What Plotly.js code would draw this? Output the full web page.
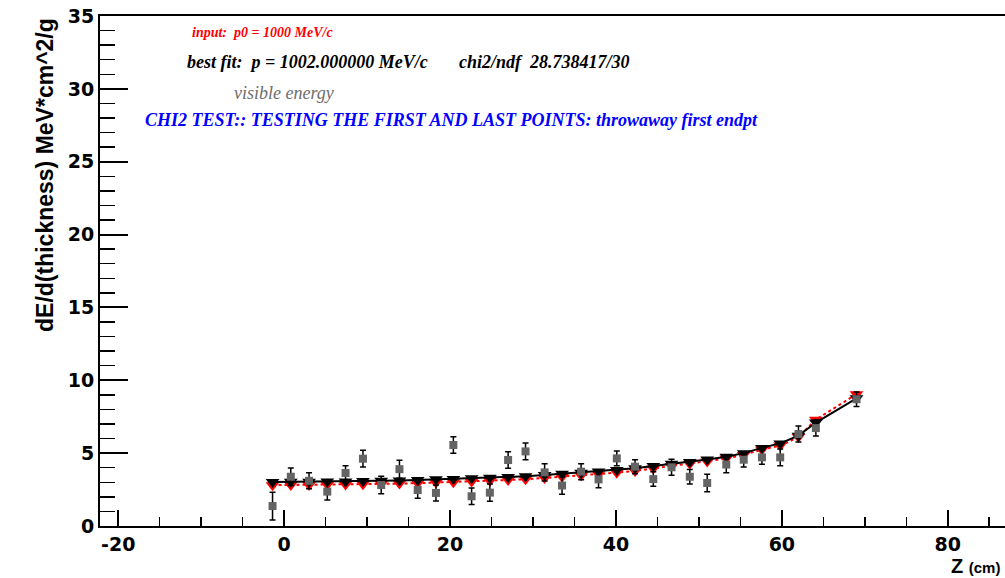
<!DOCTYPE html>
<html>
<head>
<meta charset="utf-8">
<script src="https://cdn.plot.ly/plotly-3.0.1.min.js"></script>
<style>html,body{margin:0;padding:0;background:#fff;}#chart{width:1005px;height:578px;}</style>
</head>
<body>
<div id="chart"></div>
<script>
// Z positions (cm)
var zPos = [-1.4, 0.8, 3.0, 5.2, 7.4, 9.5, 11.7, 13.9, 16.1, 18.3, 20.4, 22.6, 24.8, 27.0, 29.1, 31.4,
            33.5, 35.8, 37.9, 40.1, 42.3, 44.5, 46.7, 48.9, 51.0, 53.3, 55.4, 57.6, 59.8, 62.0, 64.1, 69.0];
// input p0 = 1000 MeV/c (red)
var inputVals = [2.80, 2.81, 2.82, 2.83, 2.84, 2.86, 2.88, 2.91, 2.94, 2.98, 3.01, 3.05, 3.10, 3.15, 3.20, 3.30,
                 3.38, 3.47, 3.56, 3.66, 3.78, 3.95, 4.12, 4.27, 4.43, 4.63, 4.88, 5.24, 5.52, 6.10, 7.30, 9.05];
// best fit p = 1002 MeV/c (black)
var fitVals = [3.02, 3.03, 3.04, 3.05, 3.06, 3.08, 3.10, 3.13, 3.16, 3.20, 3.23, 3.27, 3.31, 3.36, 3.41, 3.50,
               3.58, 3.66, 3.74, 3.84, 3.96, 4.12, 4.27, 4.40, 4.56, 4.76, 5.00, 5.36, 5.67, 6.20, 7.10, 8.76];
// visible energy (gray) with errors
var visVals = [1.37, 3.38, 3.10, 2.36, 3.64, 4.62, 2.81, 3.90, 2.47, 2.27, 5.56, 2.04, 2.29, 4.53, 5.12, 3.68,
               2.78, 3.73, 3.20, 4.64, 4.07, 3.22, 4.03, 3.38, 2.95, 4.22, 4.55, 4.71, 4.71, 6.31, 6.72, 8.70];
var visErr = [0.95, 0.60, 0.55, 0.57, 0.50, 0.57, 0.60, 0.62, 0.57, 0.55, 0.57, 0.57, 0.60, 0.57, 0.57, 0.60,
              0.60, 0.55, 0.57, 0.50, 0.48, 0.50, 0.55, 0.50, 0.60, 0.57, 0.50, 0.48, 0.58, 0.55, 0.55, 0.50];

var xTickVals = [-20, 0, 20, 40, 60, 80];
var yTickVals = [0, 5, 10, 15, 20, 25, 30, 35];

var L = 100, T = 16, W = 905, H = 510;
function px(x) { return (x - L) / W; }
function py(y) { return (T + H - y) / H; }

var traces = [
  {x: zPos, y: inputVals, type: 'scatter', mode: 'lines+markers',
   line: {color: 'red', width: 2, dash: 'dot'},
   marker: {symbol: 'triangle-down', size: 12, color: 'red'}, showlegend: false, hoverinfo: 'none'},
  {x: zPos, y: fitVals, type: 'scatter', mode: 'lines+markers',
   line: {color: 'black', width: 2},
   marker: {symbol: 'triangle-down', size: 12, color: 'black'}, showlegend: false, hoverinfo: 'none'},
  {x: zPos, y: visVals, type: 'scatter', mode: 'markers',
   marker: {symbol: 'square', size: 8, color: 'rgb(100,100,100)'},
   error_y: {type: 'data', array: visErr, visible: true, color: 'black', thickness: 1.5, width: 3},
   showlegend: false, hoverinfo: 'none'}
];

var serif = 'Liberation Serif, Times New Roman, serif';
function ann(text, x, y, color, size, weight) {
  return {text: text, xref: 'paper', yref: 'paper', x: px(x), y: py(y), xanchor: 'left', yanchor: 'middle',
          showarrow: false, font: {family: serif, size: size, color: color, weight: weight || 'bold', style: 'italic'}};
}

var layout = {
  width: 1005, height: 578,
  margin: {l: L, r: 0, t: T, b: 52, pad: 0},
  paper_bgcolor: 'white', plot_bgcolor: 'white',
  xaxis: {
    range: [-22.2, 86.9], showgrid: false, zeroline: false,
    showline: true, linecolor: 'black', linewidth: 2, mirror: true,
    tickmode: 'array', tickvals: xTickVals, ticktext: xTickVals.map(String),
    ticks: 'inside', ticklen: 16, tickwidth: 2, tickcolor: 'black',
    minor: {dtick: 5, tick0: 0, ticks: 'inside', ticklen: 9, tickwidth: 1.5, tickcolor: 'black', showgrid: false},
    tickfont: {family: 'DejaVu Sans', size: 19, color: 'black', weight: 'bold'}
  },
  yaxis: {
    range: [0, 35], showgrid: false, zeroline: false,
    showline: true, linecolor: 'black', linewidth: 2,
    tickmode: 'array', tickvals: yTickVals, ticktext: yTickVals.map(String),
    ticks: 'inside', ticklen: 28, tickwidth: 2, tickcolor: 'black',
    minor: {dtick: 1, tick0: 0, ticks: 'inside', ticklen: 15, tickwidth: 1.5, tickcolor: 'black', showgrid: false},
    tickfont: {family: 'DejaVu Sans', size: 19, color: 'black', weight: 'bold'}
  },
  annotations: [
    ann('input:  p0 = 1000 MeV/c', 190, 32, 'red', 14),
    ann('best fit:  p = 1002.000000 MeV/c', 185, 62, 'black', 18),
    ann('chi2/ndf  28.738417/30', 457, 62, 'black', 18),
    ann('visible energy', 232, 93, 'rgb(110,110,110)', 18, 'normal'),
    ann('CHI2 TEST:: TESTING THE FIRST AND LAST POINTS: throwaway first endpt', 143, 120, 'blue', 18),
    {text: 'dE/d(thickness) MeV*cm^2/g', xref: 'paper', yref: 'paper', x: px(45), y: py(175),
     xanchor: 'center', yanchor: 'middle', textangle: -90, showarrow: false,
     font: {family: 'Liberation Sans, Arial, sans-serif', size: 23, color: 'black', weight: 'bold'}},
    {text: 'Z <span style="font-size:15px">(cm)</span>', xref: 'paper', yref: 'paper', x: px(1001), y: py(566),
     xanchor: 'right', yanchor: 'middle', showarrow: false, borderpad: 0,
     font: {family: 'Liberation Sans, Arial, sans-serif', size: 20, color: 'black', weight: 'bold'}}
  ]
};

Plotly.newPlot('chart', traces, layout, {staticPlot: true, displayModeBar: false});
</script>
</body>
</html>
